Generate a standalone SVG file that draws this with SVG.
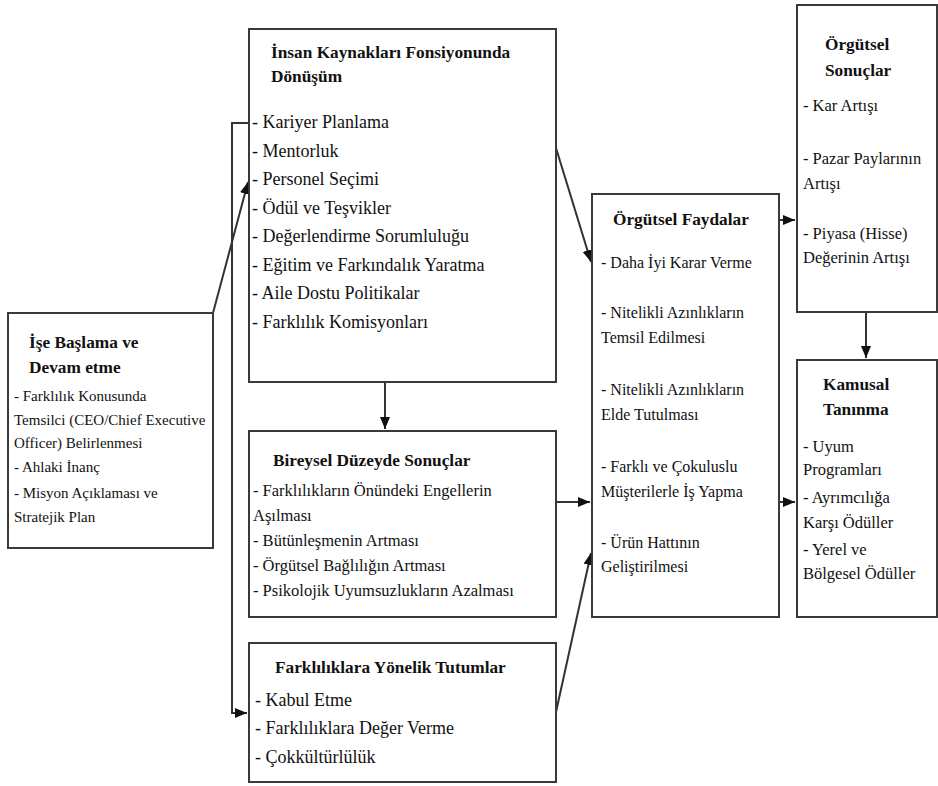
<svg xmlns="http://www.w3.org/2000/svg" width="938" height="786" viewBox="0 0 938 786">
<style>
.box{fill:#fff;stroke:#3a3a3a;stroke-width:2}
text{font-family:"Liberation Serif","DejaVu Serif",serif;fill:#111}
.t{font-weight:bold;font-size:17.3px}
.a{font-size:18px}
.b{font-size:16.5px}
.c{font-size:15px}
.d{font-size:16px}
.con{fill:none;stroke:#333;stroke-width:2}
</style>
<defs>
<marker id="ah" markerUnits="userSpaceOnUse" markerWidth="13" markerHeight="11" refX="12" refY="5" orient="auto">
<path d="M0,0 L12,5 L0,10 z" fill="#111"/>
</marker>
</defs>
<rect width="938" height="786" fill="#fff"/>

<g id="connectors">
<path class="con" d="M249,123 H232 V713 H247" marker-end="url(#ah)"/>
<path class="con" d="M213,313 L248,182" marker-end="url(#ah)"/>
<path class="con" d="M385,382 V429" marker-end="url(#ah)"/>
<path class="con" d="M556,148 L591,262" marker-end="url(#ah)"/>
<path class="con" d="M556,502 H590" marker-end="url(#ah)"/>
<path class="con" d="M556,712 L591,553" marker-end="url(#ah)"/>
<path class="con" d="M779,220 H795" marker-end="url(#ah)"/>
<path class="con" d="M779,502 H795" marker-end="url(#ah)"/>
<path class="con" d="M866,312 V358" marker-end="url(#ah)"/>
</g>

<g id="ise-baslama">
<rect class="box" x="8" y="313" width="205" height="235"/>
<text class="t" x="29" y="348">İşe Başlama ve</text>
<text class="t" x="29" y="373">Devam etme</text>
<text class="c" x="14" y="401">- Farklılık Konusunda</text>
<text class="c" x="14" y="425">Temsilci (CEO/Chief Executive</text>
<text class="c" x="14" y="448">Officer) Belirlenmesi</text>
<text class="c" x="14" y="472">- Ahlaki İnanç</text>
<text class="c" x="14" y="498">- Misyon Açıklaması ve</text>
<text class="c" x="14" y="522">Stratejik Plan</text>
</g>

<g id="insan-kaynaklari">
<rect class="box" x="249" y="29" width="307" height="353"/>
<text class="t" x="271" y="58">İnsan Kaynakları Fonsiyonunda</text>
<text class="t" x="271" y="82">Dönüşüm</text>
<text class="a" x="252" y="128">- Kariyer Planlama</text>
<text class="a" x="252" y="157">- Mentorluk</text>
<text class="a" x="252" y="185">- Personel Seçimi</text>
<text class="a" x="252" y="214">- Ödül ve Teşvikler</text>
<text class="a" x="252" y="242">- Değerlendirme Sorumluluğu</text>
<text class="a" x="252" y="271">- Eğitim ve Farkındalık Yaratma</text>
<text class="a" x="252" y="299">- Aile Dostu Politikalar</text>
<text class="a" x="252" y="328">- Farklılık Komisyonları</text>
</g>

<g id="bireysel">
<rect class="box" x="249" y="431" width="307" height="186"/>
<text class="t" x="273" y="466">Bireysel Düzeyde Sonuçlar</text>
<text class="b" x="253" y="496">- Farklılıkların Önündeki Engellerin</text>
<text class="b" x="253" y="521">Aşılması</text>
<text class="b" x="253" y="546">- Bütünleşmenin Artması</text>
<text class="b" x="253" y="571">- Örgütsel Bağlılığın Artması</text>
<text class="b" x="253" y="596">- Psikolojik Uyumsuzlukların Azalması</text>
</g>

<g id="tutumlar">
<rect class="box" x="249" y="643" width="307" height="139"/>
<text class="t" x="275" y="673">Farklılıklara Yönelik Tutumlar</text>
<text class="a" x="255" y="706">- Kabul Etme</text>
<text class="a" x="255" y="734">- Farklılıklara Değer Verme</text>
<text class="a" x="255" y="763">- Çokkültürlülük</text>
</g>

<g id="faydalar">
<rect class="box" x="592" y="194" width="187" height="423"/>
<text class="t" x="613" y="225">Örgütsel Faydalar</text>
<text class="d" x="601" y="268">- Daha İyi Karar Verme</text>
<text class="d" x="601" y="318">- Nitelikli Azınlıkların</text>
<text class="d" x="601" y="343">Temsil Edilmesi</text>
<text class="d" x="601" y="395">- Nitelikli Azınlıkların</text>
<text class="d" x="601" y="420">Elde Tutulması</text>
<text class="d" x="601" y="472">- Farklı ve Çokuluslu</text>
<text class="d" x="601" y="497">Müşterilerle İş Yapma</text>
<text class="d" x="601" y="548">- Ürün Hattının</text>
<text class="d" x="601" y="572">Geliştirilmesi</text>
</g>

<g id="orgutsel-sonuclar">
<rect class="box" x="797" y="5" width="140" height="307"/>
<text class="t" x="825" y="50">Örgütsel</text>
<text class="t" x="825" y="76">Sonuçlar</text>
<text class="b" x="803" y="111">- Kar Artışı</text>
<text class="b" x="803" y="164">- Pazar Paylarının</text>
<text class="b" x="803" y="189">Artışı</text>
<text class="b" x="803" y="239">- Piyasa (Hisse)</text>
<text class="b" x="803" y="263">Değerinin Artışı</text>
</g>

<g id="kamusal">
<rect class="box" x="797" y="360" width="140" height="257"/>
<text class="t" x="823" y="390">Kamusal</text>
<text class="t" x="823" y="415">Tanınma</text>
<text class="b" x="803" y="452">- Uyum</text>
<text class="b" x="803" y="475">Programları</text>
<text class="b" x="803" y="503">- Ayrımcılığa</text>
<text class="b" x="803" y="528">Karşı Ödüller</text>
<text class="b" x="803" y="555">- Yerel ve</text>
<text class="b" x="803" y="579">Bölgesel Ödüller</text>
</g>
</svg>
